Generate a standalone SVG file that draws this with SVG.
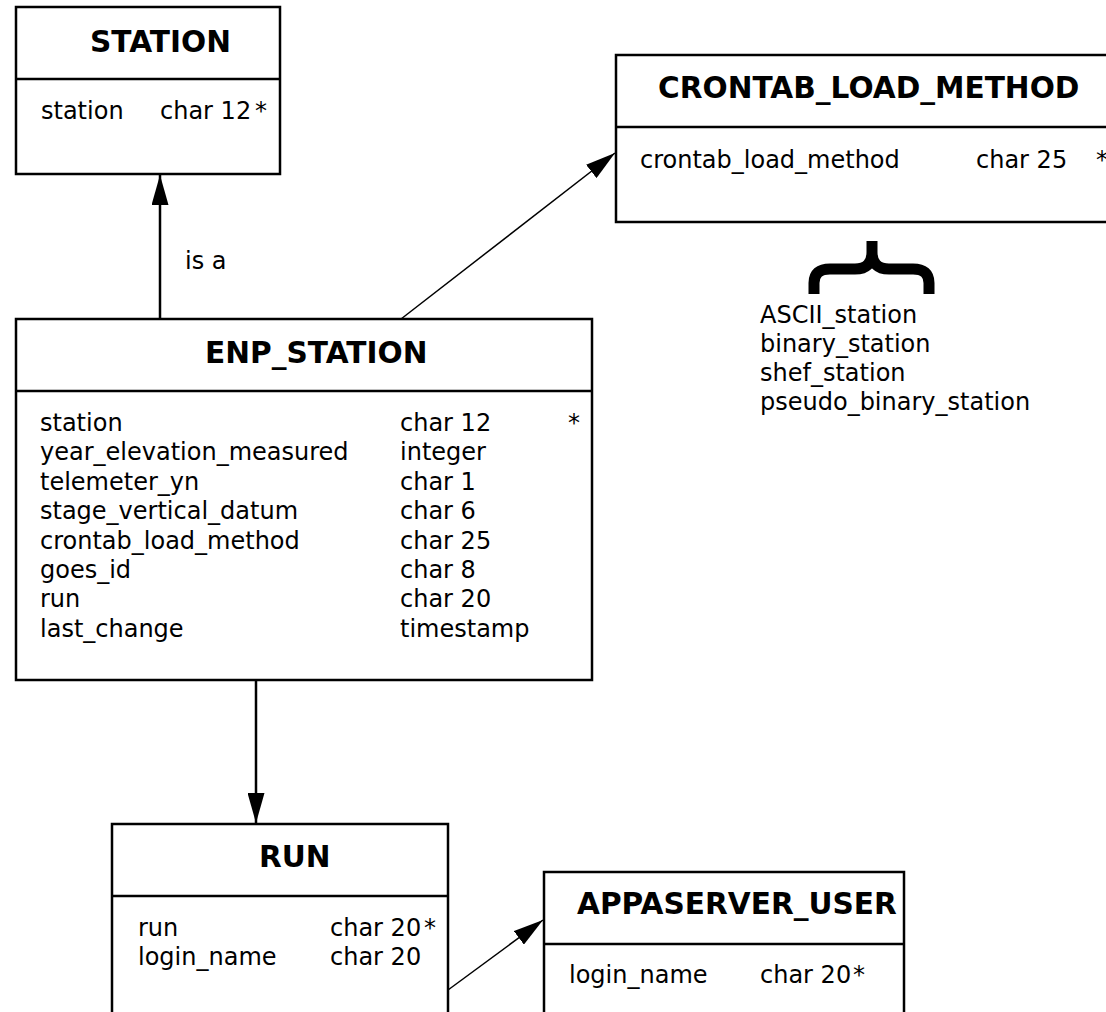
<svg xmlns="http://www.w3.org/2000/svg" width="1106" height="1012" viewBox="0 0 1106 1012">
<style>
.box{fill:#fff;stroke:#000;stroke-width:2.5}
.div{stroke:#000;stroke-width:2.5}
.t{font-family:"DejaVu Sans",sans-serif;font-size:29.6px;font-weight:bold;fill:#000}
.b{font-family:"DejaVu Sans",sans-serif;font-size:24px;fill:#000}
.c{stroke:#000;fill:none}
</style>
<defs>
<marker id="ah" viewBox="0 0 30 17" refX="30" refY="8.5" markerWidth="30" markerHeight="17" markerUnits="userSpaceOnUse" orient="auto">
<path d="M0,0 L30,8.5 L0,17 z" fill="#000"/>
</marker>
</defs>
<rect width="1106" height="1012" fill="#fff"/>
<g id="connectors">
<line class="c" x1="160" y1="319" x2="160" y2="175" stroke-width="2.5" marker-end="url(#ah)"/>
<text class="b" x="185" y="269">is a</text>
<line class="c" x1="401" y1="319" x2="615" y2="153" stroke-width="1.5" marker-end="url(#ah)"/>
<line class="c" x1="256" y1="680" x2="256" y2="823" stroke-width="2.5" marker-end="url(#ah)"/>
<line class="c" x1="448" y1="990" x2="543" y2="920" stroke-width="1.5" marker-end="url(#ah)"/>
</g>
<g id="station">
<rect class="box" x="16" y="7" width="264" height="167"/>
<line class="div" x1="16" y1="79" x2="280" y2="79"/>
<text class="t" x="90" y="52">STATION</text>
<text class="b" x="41" y="119">station</text>
<text class="b" x="160" y="119">char 12</text>
<text class="b" x="255" y="119">*</text>
</g>
<g id="crontab_load_method">
<rect class="box" x="616" y="55" width="520" height="167"/>
<line class="div" x1="616" y1="127" x2="1106" y2="127"/>
<text class="t" x="658" y="98">CRONTAB_LOAD_METHOD</text>
<text class="b" x="640" y="168">crontab_load_method</text>
<text class="b" x="976" y="168">char 25</text>
<text class="b" x="1096" y="168">*</text>
</g>
<g id="crontab_values">
<path d="M814 294 L814 283 Q814 269 830 269 L855 269 Q872 269 872 252 L872 241 M872 252 Q872 269 889 269 L913 269 Q929 269 929 283 L929 294" fill="none" stroke="#000" stroke-width="11"/>
<text class="b" x="760" y="323">ASCII_station</text>
<text class="b" x="760" y="352">binary_station</text>
<text class="b" x="760" y="381">shef_station</text>
<text class="b" x="760" y="410">pseudo_binary_station</text>
</g>
<g id="enp_station">
<rect class="box" x="16" y="319" width="576" height="361"/>
<line class="div" x1="16" y1="391" x2="592" y2="391"/>
<text class="t" x="205" y="363">ENP_STATION</text>
<text class="b" x="40" y="431">station</text>
<text class="b" x="400" y="431">char 12</text>
<text class="b" x="568" y="431">*</text>
<text class="b" x="40" y="460.4">year_elevation_measured</text>
<text class="b" x="400" y="460.4">integer</text>
<text class="b" x="40" y="489.8">telemeter_yn</text>
<text class="b" x="400" y="489.8">char 1</text>
<text class="b" x="40" y="519.2">stage_vertical_datum</text>
<text class="b" x="400" y="519.2">char 6</text>
<text class="b" x="40" y="548.6">crontab_load_method</text>
<text class="b" x="400" y="548.6">char 25</text>
<text class="b" x="40" y="578">goes_id</text>
<text class="b" x="400" y="578">char 8</text>
<text class="b" x="40" y="607.4">run</text>
<text class="b" x="400" y="607.4">char 20</text>
<text class="b" x="40" y="636.8">last_change</text>
<text class="b" x="400" y="636.8">timestamp</text>
</g>
<g id="run">
<rect class="box" x="112" y="824" width="336" height="220"/>
<line class="div" x1="112" y1="896" x2="448" y2="896"/>
<text class="t" x="259" y="867">RUN</text>
<text class="b" x="138" y="936">run</text>
<text class="b" x="330" y="936">char 20</text>
<text class="b" x="424" y="936">*</text>
<text class="b" x="138" y="965">login_name</text>
<text class="b" x="330" y="965">char 20</text>
</g>
<g id="appaserver_user">
<rect class="box" x="544" y="872" width="360" height="200"/>
<line class="div" x1="544" y1="944" x2="904" y2="944"/>
<text class="t" x="577" y="914">APPASERVER_USER</text>
<text class="b" x="569" y="983">login_name</text>
<text class="b" x="760" y="983">char 20</text>
<text class="b" x="853" y="983">*</text>
</g>
</svg>
